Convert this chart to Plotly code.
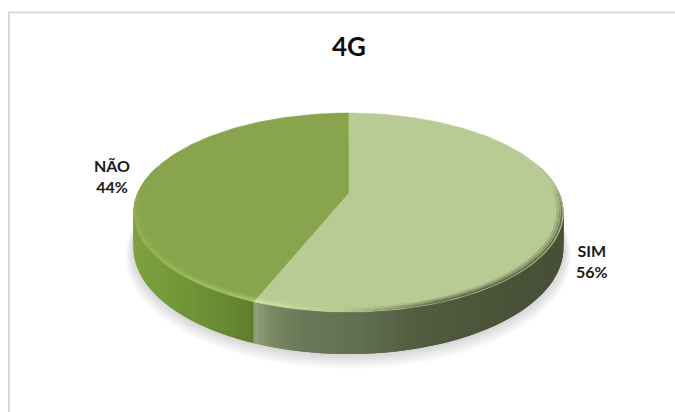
import numpy as np
import plotly.graph_objects as go

# --- data ---
title = "4G"
labels = ["SIM", "NÃO"]
values = [56, 44]

# --- style ---
TOP = ["#b8cb94", "#88a44c"]
PANEL = "#d9d9d9"
SIDE_X = [[254, 272, 300, 350, 420, 500, 565],
          [133, 190, 225, 254]]
SIDE_C = [[(146, 160, 124), (122, 137, 98), (107, 122, 88), (100, 114, 82), (82, 92, 64), (75, 83, 57), (72, 80, 55)],
          [(126, 163, 62), (112, 148, 54), (104, 138, 50), (94, 126, 44)]]

# projection of the (tilted, perspective) disc
CX, CY, A, B, K, D = 348.5, 193.0, 95.7, 210.8, 0.196, 33.8


def proj(theta, h=0.0, r=1.0):
    u, v = r * np.sin(theta), -r * np.cos(theta)
    w = 1 - K * v
    return CX + B * u / w, CY + (A * v + D * h) / w


def mix(c1, c2, t):
    t = float(np.clip(t, 0, 1))
    return tuple(c1[i] + (c2[i] - c1[i]) * t for i in range(3))


def rgb(c, a=1.0):
    return f"rgba({int(c[0])},{int(c[1])},{int(c[2])},{a:.3f})"


def poly(fig, xs, ys, color, lw=0.0):
    fig.add_trace(go.Scatter(x=xs, y=ys, mode="lines", fill="toself", fillcolor=color,
                             line=dict(width=lw, color=color), hoverinfo="skip", showlegend=False))


fig = go.Figure()

# shadow
all_t = np.linspace(0, 2 * np.pi, 181)
for s in np.linspace(1.035, 1.0, 9):
    x, y = proj(all_t, 1.0 + (s - 1) * 6, s)
    fig.add_trace(go.Scatter(x=x, y=y, mode="lines", fill="toself", fillcolor="rgba(80,80,80,0.028)",
                             line=dict(width=0), hoverinfo="skip", showlegend=False))

fracs = np.array(values, float) / sum(values)
edges = np.concatenate([[0], np.cumsum(fracs)]) * 2 * np.pi

# side wall, strip by strip, shaded by screen position; each strip overlaps the next
for i in range(len(values)):
    t0, t1 = edges[i], edges[i + 1]
    ts = np.linspace(t0, t1, 170)
    ts = ts[(np.cos(ts) < 0.30)]
    for j in range(len(ts) - 1):
        a, b = ts[j], ts[min(j + 2, len(ts) - 1)]
        xa, ya = proj(a, 0.0)
        xb, yb = proj(b, 0.0)
        xc, yc = proj(b, 1.0)
        xd, yd = proj(a, 1.0)
        xm = (xa + proj(ts[j + 1], 0.0)[0]) / 2
        c = [np.interp(xm, SIDE_X[i], [k[n] for k in SIDE_C[i]]) for n in range(3)]
        poly(fig, [xa, xb, xc, xd, xa], [ya, yb, yc, yd, ya], rgb(c))

# top faces
for i in range(len(values)):
    ts = np.linspace(edges[i], edges[i + 1], 160)
    x, y = proj(ts)
    cx0, cy0 = proj(0.0, 0.0, 0.0)
    poly(fig, np.r_[cx0, x, cx0], np.r_[cy0, y, cy0], TOP[i], 0.5)

# bevel along the front rim, tapering away towards the back of the disc
for rr, alpha in [(0.972, 0.22), (0.982, 0.45), (0.992, 0.8)]:
    for i in range(len(values)):
        ts = np.linspace(edges[i], edges[i + 1], 90)
        ts = ts[np.cos(ts) < 0.10]
        for a, b in zip(ts[:-1], ts[1:]):
            xa, ya = proj(a, 0.0, rr)
            xb, yb = proj(b, 0.0, rr)
            xm = (xa + xb) / 2
            fade = float(np.clip((0.10 - np.cos((a + b) / 2)) / 0.35, 0, 1))
            if i == 0:
                # bright close to the seam, fading to dark on the right
                if xm < 340:
                    c = mix((214, 232, 170), (186, 208, 140), (xm - 254) / 86)
                else:
                    c = mix((186, 208, 140), (74, 82, 56), (xm - 340) / 100)
            else:
                c = mix((150, 184, 84), (176, 208, 110), (xm - 133) / 121)
            fig.add_trace(go.Scatter(x=[xa, xb], y=[ya, yb], mode="lines",
                                     line=dict(width=1.8, color=rgb(c, alpha * fade)),
                                     hoverinfo="skip", showlegend=False))

FONT = "Lato, Carlito, Calibri, sans-serif"
anns = [dict(x=348.5, y=46, text=f"<b>{title}</b>", font=dict(size=26, color="#0d0d0d", family=FONT)),
        dict(x=112, y=176, text=f"<b>{labels[1]}<br>{values[1]}%</b>", font=dict(size=16, color="#1a1a1a", family=FONT)),
        dict(x=592, y=261, text=f"<b>{labels[0]}<br>{values[0]}%</b>", font=dict(size=16, color="#1a1a1a", family=FONT))]

fig.update_layout(
    width=675, height=412, margin=dict(l=0, r=0, t=0, b=0),
    paper_bgcolor="white", plot_bgcolor="white", showlegend=False,
    xaxis=dict(range=[0, 675], visible=False, fixedrange=True),
    yaxis=dict(range=[412, 0], visible=False, fixedrange=True),
    annotations=[dict(a, xref="x", yref="y", showarrow=False, align="center") for a in anns],
    shapes=[dict(type="path", path="M 9 412 L 9 12.5 L 675 12.5", xref="x", yref="y",
                 line=dict(color=PANEL, width=2))],
)
fig.write_html("out.html", config=dict(displayModeBar=False),
               post_script="document.body.style.margin='0';document.body.style.overflow='hidden';")
